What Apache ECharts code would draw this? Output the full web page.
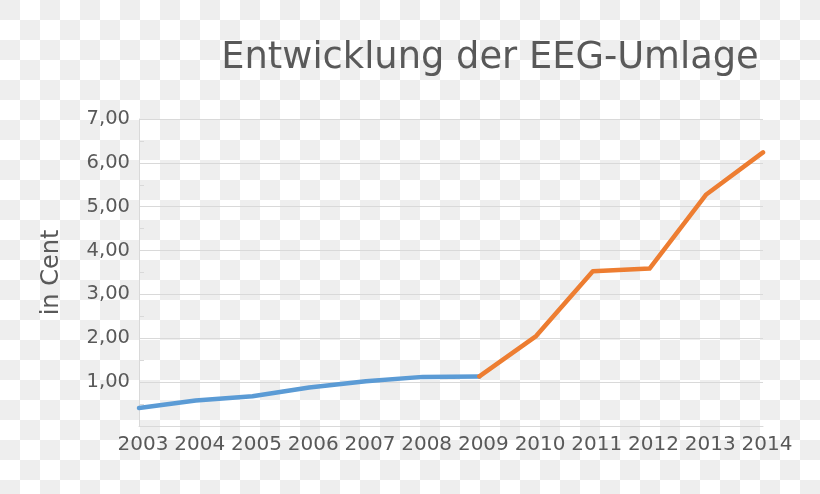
<!DOCTYPE html>
<html>
<head>
<meta charset="utf-8">
<script src="https://cdn.jsdelivr.net/npm/echarts@6/dist/echarts.min.js"></script>
<style>
html,body{margin:0;padding:0;}
body{
  width:820px;height:494px;
  background-color:#ffffff;
  background-image:conic-gradient(#ffffff 25%, #eeeeee 0 50%, #ffffff 0 75%, #eeeeee 0);
  background-size:40px 40px;
}
#chart{width:820px;height:494px;}
</style>
</head>
<body>
<div id="chart"></div>
<script>
// Data
var years = ['2003','2004','2005','2006','2007','2008','2009','2010','2011','2012','2013','2014'];
var blueValues = [0.41, 0.58, 0.68, 0.88, 1.02, 1.12, 1.13, null, null, null, null, null];
var orangeValues = [null, null, null, null, null, null, 1.13, 2.05, 3.53, 3.59, 5.28, 6.24];
var titleText = 'Entwicklung der EEG-Umlage';
var yAxisName = 'in Cent';

var textColor = '#595959';
var font = 'DejaVu Sans';

var chart = echarts.init(document.getElementById('chart'));
chart.setOption({
  animation: false,
  title: {
    text: titleText,
    left: 485,
    top: 35,
    textAlign: 'center',
    textStyle: {fontFamily: font, fontSize: 36.8, fontWeight: 'normal', color: textColor}
  },
  grid: {left: 139, right: 57, top: 119, bottom: 68},
  xAxis: {
    type: 'category',
    data: years,
    boundaryGap: false,
    axisLine: {show: true, lineStyle: {color: '#d9d9d9', width: 1}},
    axisTick: {show: false},
    axisLabel: {margin: 9, fontFamily: font, fontSize: 20, color: textColor, interval: 0, padding: [0, 0, 0, 8]},
    splitLine: {show: false}
  },
  yAxis: {
    type: 'value',
    min: 0,
    max: 7,
    interval: 1,
    name: yAxisName,
    nameLocation: 'middle',
    nameGap: 75,
    nameTextStyle: {fontFamily: font, fontSize: 24, color: textColor},
    axisLine: {show: true, lineStyle: {color: '#d9d9d9', width: 1}},
    axisTick: {show: true, inside: true, length: 5, lineStyle: {color: '#d9d9d9'}},
    minorTick: {show: true, splitNumber: 2, length: 5, lineStyle: {color: '#d9d9d9'}},
    axisLabel: {
      margin: 9, fontFamily: font, fontSize: 19.5, color: textColor,
      formatter: function (v) { return v === 0 ? '' : v.toFixed(2).replace('.', ','); }
    },
    splitLine: {show: true, lineStyle: {color: '#d9d9d9', width: 1}}
  },
  series: [
    {
      type: 'line', data: blueValues, showSymbol: false, symbol: 'none',
      lineStyle: {color: '#5b9bd5', width: 4.5, cap: 'round', join: 'round'},
      itemStyle: {color: '#5b9bd5'}
    },
    {
      type: 'line', data: orangeValues, showSymbol: false, symbol: 'none',
      lineStyle: {color: '#ed7d31', width: 4.5, cap: 'round', join: 'round'},
      itemStyle: {color: '#ed7d31'}
    }
  ]
});
</script>
</body>
</html>
